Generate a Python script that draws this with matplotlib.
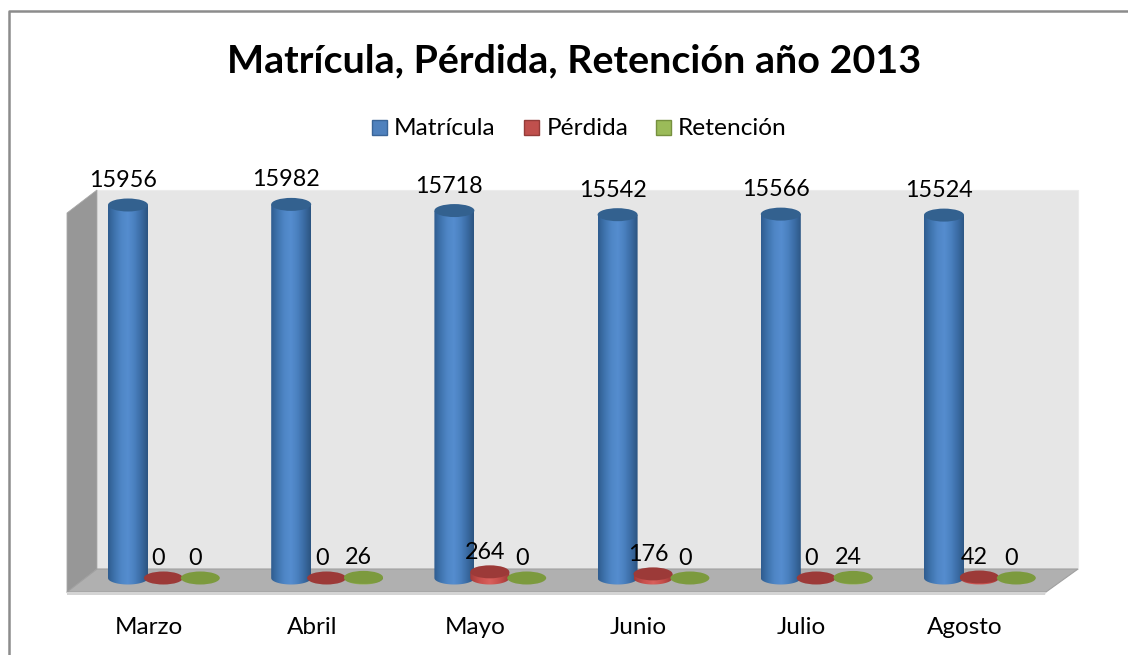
import numpy as np
import matplotlib
matplotlib.use("Agg")
import matplotlib.pyplot as plt
from matplotlib.patches import Polygon, Rectangle, Ellipse, PathPatch
from matplotlib.path import Path
from matplotlib.colors import LinearSegmentedColormap
from matplotlib.lines import Line2D

months = ["Marzo", "Abril", "Mayo", "Junio", "Julio", "Agosto"]
matricula = [15956, 15982, 15718, 15542, 15566, 15524]
perdida = [0, 0, 264, 176, 0, 42]
retencion = [0, 26, 0, 0, 24, 0]
series_names = ["Matrícula", "Pérdida", "Retención"]
title_text = "Matrícula, Pérdida, Retención año 2013"

W, H = 1128, 655
plt.rcParams['font.family'] = ['Lato', 'DejaVu Sans']
fig = plt.figure(figsize=(W / 100, H / 100), dpi=100, facecolor='white')

# page-level overlay in pixel coordinates (frame, 3D box, title, legend)
pg = fig.add_axes([0, 0, 1, 1], zorder=0)
pg.set_xlim(0, W); pg.set_ylim(H, 0); pg.axis('off')

# data axes: x in category units, y in values
X0, DX = 128.0, 163.2
Y0, PXU = 578.0, 373.0 / 15956
ax = fig.add_axes([0, 0, 1, 1], zorder=1)
ax.set_xlim(-X0 / DX, (W - X0) / DX)
ax.set_ylim(-(H - Y0) / PXU, Y0 / PXU)
ax.axis('off'); ax.patch.set_alpha(0)

# frame
pg.add_line(Line2D([9, 9, W], [H, 11, 11], color='#8c8c8c', lw=1.8))

# 3D box
pg.add_patch(Polygon([(97, 190), (1078, 190), (1078, 569), (97, 569)], fc='#e6e6e6', ec='#ececec', lw=0.8))
pg.add_patch(Polygon([(67, 213), (97, 190), (97, 569), (67, 593)], fc='#979797', ec='#a8a8a8', lw=0.6))
pg.add_patch(Polygon([(67, 592), (97, 569), (1078, 569), (1046, 592)], fc='#b0b0b0', ec='#a0a0a0', lw=0.8))
pg.add_patch(Polygon([(67, 592), (1046, 592), (1045, 595), (67, 595)], fc='#d4d4d4', ec='none'))

cmaps = [
    LinearSegmentedColormap.from_list('b', ['#2f5c8f', '#3f74ae', '#4f86c6', '#558dcf', '#4a80bf', '#3a6ba3', '#2c5480']),
    LinearSegmentedColormap.from_list('r', ['#a33b39', '#c9504d', '#d9605c', '#c44d4a', '#9c3735']),
    LinearSegmentedColormap.from_list('g', ['#74913c', '#8bab4a', '#97b855', '#84a345', '#6f8c39']),
]
top_cols = ['#33618f', '#9c3a38', '#7c9a3e']
rw_px = [20, 19.5, 19.5]
rh_px = 6.5
offsets = [0.0, 0.217, 0.443]
grad = np.linspace(0, 1, 128).reshape(1, -1)


def cylinder(x, value, s):
    r = rw_px[s] / DX
    ry = rh_px / PXU
    v = max(value, 0)
    n = 60
    t = np.linspace(np.pi, 2 * np.pi, n)
    xs = list(x + r * np.cos(t)) + [x + r, x - r]
    ys = list(ry * np.sin(t)) + [v, v]
    poly = Path(np.column_stack([xs + [xs[0]], ys + [ys[0]]]))
    if v > 0:
        im = ax.imshow(grad, cmap=cmaps[s], extent=[x - r, x + r, -ry, v], aspect='auto',
                       zorder=3 + s * 0.1, interpolation='bilinear')
        im.set_clip_path(PathPatch(poly, transform=ax.transData))
    ax.add_patch(Ellipse((x, v), 2 * r, 2 * ry, fc=top_cols[s], ec='none', zorder=3.05 + s * 0.1))


for i in range(len(months)):
    cylinder(i + offsets[0], matricula[i], 0)
    cylinder(i + offsets[1], perdida[i], 1)
    cylinder(i + offsets[2], retencion[i], 2)

ax.set_xlim(-X0 / DX, (W - X0) / DX)
ax.set_ylim(-(H - Y0) / PXU, Y0 / PXU)

# value labels
fs = 16.8
for i, m in enumerate(months):
    ax.annotate(str(matricula[i]), (i + offsets[0], matricula[i]), xytext=(-5, 14), textcoords='offset pixels',
                ha='center', va='bottom', fontsize=fs, color='black', zorder=6)
    ax.annotate(str(perdida[i]), (i + offsets[1], perdida[i]), xytext=(-5, 9), textcoords='offset pixels',
                ha='center', va='bottom', fontsize=fs, color='black', zorder=6)
    ax.annotate(str(retencion[i]), (i + offsets[2], retencion[i]), xytext=(-5, 9), textcoords='offset pixels',
                ha='center', va='bottom', fontsize=fs, color='black', zorder=6)
    pg.text(X0 + i * DX + 21, 628, m, ha='center', va='center', fontsize=17.5, color='black')

# title
pg.text(574, 61, title_text, ha='center', va='center', fontsize=28.4, fontweight='bold', color='black')

# legend
colors = ['#4f81bd', '#c0504d', '#9bbb59']
edges = ['#3a6598', '#943c39', '#76903f']
sx = [372, 524, 656]
tx = [394, 547, 678]
for s in range(3):
    pg.add_patch(Rectangle((sx[s], 120), 15, 15, fc=colors[s], ec=edges[s], lw=1))
    pg.text(tx[s], 128.5, series_names[s], ha='left', va='center', fontsize=17.6, color='black')

fig.savefig('out.png', dpi=100, facecolor='white')
